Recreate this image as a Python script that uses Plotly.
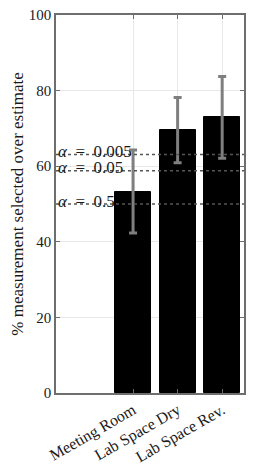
import plotly.graph_objects as go

categories = ["Meeting Room", "Lab Space Dry", "Lab Space Rev."]
positions = [1, 2, 3]
means = [53.3, 69.6, 72.9]
err_plus = [11.0, 8.6, 10.8]
err_minus = [11.0, 8.7, 10.8]
alpha_labels = ["α = 0.005", "α = 0.05", "α = 0.5"]
alpha_levels = [63.1, 58.8, 50.0]
y_ticks = [0, 20, 40, 60, 80, 100]

FONT = "Liberation Serif"
AX = "#6e6e6e"
TXT = "#1a1a1a"

fig = go.Figure()
fig.add_trace(go.Bar(
    x=positions, y=means, width=0.81,
    marker=dict(color="black", line=dict(color="black", width=1)),
    error_y=dict(type="data", symmetric=False, array=err_plus, arrayminus=err_minus,
                 color="#7f7f7f", thickness=3, width=4),
    showlegend=False,
))

for lab, lv in zip(alpha_labels, alpha_levels):
    fig.add_shape(type="line", xref="paper", x0=0, x1=1, yref="y", y0=lv, y1=lv,
                  line=dict(color="#555555", width=1.5, dash="dot"), layer="above")
    fig.add_annotation(xref="paper", x=0, xanchor="left", y=lv, yanchor="middle", yshift=3,
                       text=lab.replace("α", "<i>α</i>").replace(" ", "\u2002"), showarrow=False,
                       font=dict(family=FONT, size=17, color=TXT))

# the page body adds an 8px offset, so the figure is sized to fit inside the window
fig.update_layout(
    width=261, height=463,
    margin=dict(l=48, r=25, t=7, b=78),
    paper_bgcolor="white", plot_bgcolor="white",
    font=dict(family=FONT, size=16, color=TXT),
    bargap=0,
)
fig.update_xaxes(
    range=[-0.73, 3.49], tickvals=positions, ticktext=categories, tickangle=-30,
    showgrid=True, gridcolor="#e8e8e8", gridwidth=1,
    showline=True, linecolor=AX, linewidth=1.5, mirror="ticks",
    ticks="inside", ticklen=4, tickcolor=AX, zeroline=False, automargin=False,
    tickfont=dict(family=FONT, size=16, color=TXT),
)
fig.update_yaxes(
    range=[0, 100], tickvals=y_ticks,
    showgrid=True, gridcolor="#e8e8e8", gridwidth=1,
    showline=True, linecolor=AX, linewidth=1.5, mirror="ticks",
    ticks="inside", ticklen=4, tickcolor=AX, zeroline=False, automargin=False,
    ticklabeloverflow="allow",
    tickfont=dict(family=FONT, size=15, color=TXT),
    title=dict(text="% measurement selected over estimate", standoff=10,
               font=dict(family=FONT, size=17, color=TXT)),
)
fig.write_html("out.html")
